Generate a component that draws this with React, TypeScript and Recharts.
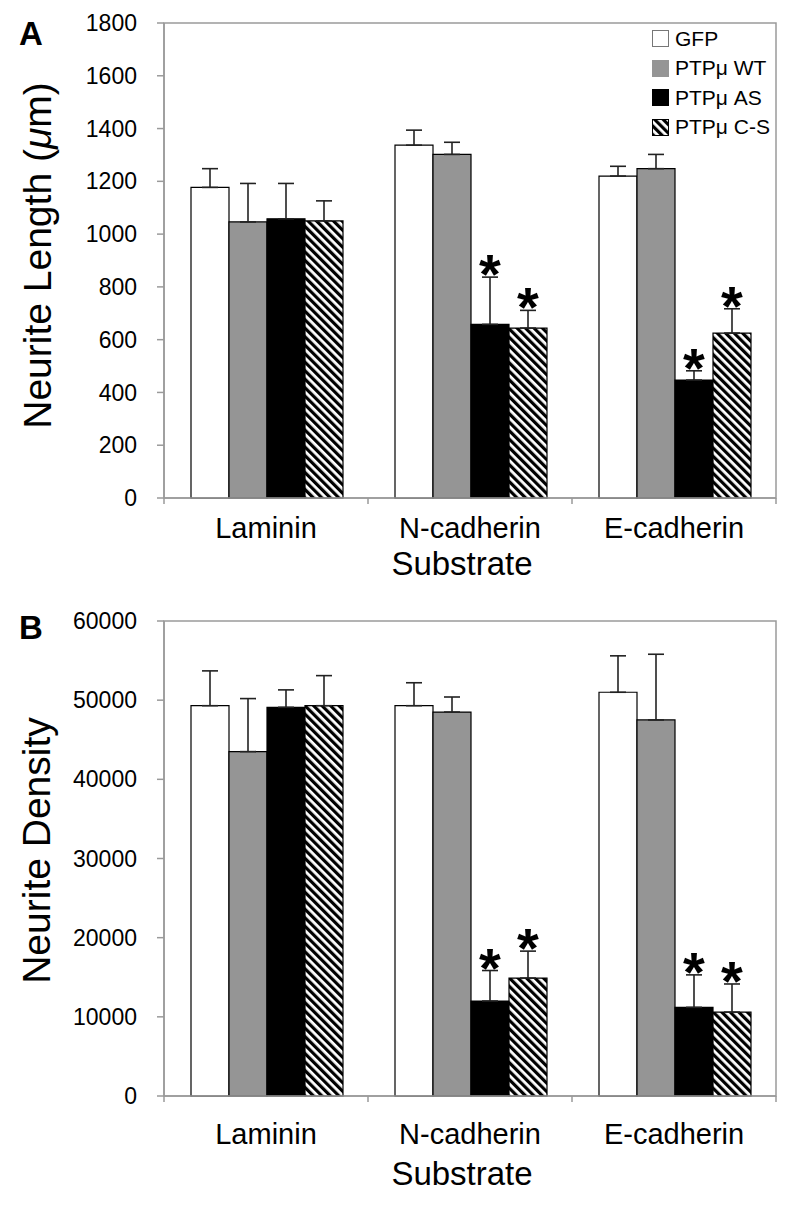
import React from 'react';
import { BarChart, Bar, XAxis, YAxis, ErrorBar, LabelList, ReferenceArea, Label } from 'recharts';

const FONT = '"Liberation Sans", Arial, Helvetica, sans-serif';

// ---- categories & series ----
const substrates = ['Laminin', 'N-cadherin', 'E-cadherin'];
const seriesNames = ['GFP', 'PTPμ WT', 'PTPμ AS', 'PTPμ C-S'];
const seriesKeys = ['gfp', 'wt', 'as', 'cs'];

// ---- Panel A: neurite length (µm) ----
const lengthGFP = [1177, 1337, 1220];
const lengthGFPErr = [71, 57, 37];
const lengthWT = [1046, 1302, 1248];
const lengthWTErr = [146, 46, 54];
const lengthAS = [1058, 658, 447];
const lengthASErr = [134, 179, 35];
const lengthCS = [1050, 644, 625];
const lengthCSErr = [76, 67, 92];
const lengthSigAS = [false, true, true];
const lengthSigCS = [false, true, true];
const lengthTicks = [0, 200, 400, 600, 800, 1000, 1200, 1400, 1600, 1800];

// ---- Panel B: neurite density ----
const densityGFP = [49300, 49300, 51000];
const densityGFPErr = [4400, 2900, 4600];
const densityWT = [43500, 48500, 47500];
const densityWTErr = [6700, 1900, 8300];
const densityAS = [49100, 12000, 11200];
const densityASErr = [2200, 3850, 4100];
const densityCS = [49300, 14900, 10600];
const densityCSErr = [3800, 3400, 3550];
const densitySigAS = [false, true, true];
const densitySigCS = [false, true, true];
const densityTicks = [0, 10000, 20000, 30000, 40000, 50000, 60000];

const AXIS_GRAY = '#9a9a9a';

function buildRows(vals: number[][], errs: number[][]) {
  return substrates.map((name, i) => {
    const row: any = { name };
    seriesKeys.forEach((k, s) => {
      row[k] = vals[s][i];
      row[k + 'Err'] = [0, errs[s][i]];
    });
    return row;
  });
}

const lengthRows = buildRows(
  [lengthGFP, lengthWT, lengthAS, lengthCS],
  [lengthGFPErr, lengthWTErr, lengthASErr, lengthCSErr]
);
const densityRows = buildRows(
  [densityGFP, densityWT, densityAS, densityCS],
  [densityGFPErr, densityWTErr, densityASErr, densityCSErr]
);

const makeStar = (errs: number[], sig: boolean[]) => (props: any) => {
  const { x, y, width, height, value, index } = props;
  if (!sig[index]) return null;
  const v = Number(value);
  const pxPerUnit = Number(height) / v;
  const capY = Number(y) - errs[index] * pxPerUnit;
  const centerY = capY - 15;
  return (
    <text
      x={Number(x) + Number(width) / 2}
      y={centerY + 31}
      textAnchor="middle"
      fontSize={56}
      fontWeight="bold"
      fontFamily={FONT}
      fill="#000"
    >
      *
    </text>
  );
};

// category label at the band centre, tick marks at the band boundaries
const makeCatTick = (catMargin: number) => (props: any) => {
  const { x, y, payload, width, visibleTicksCount, index } = props;
  const count = Number(visibleTicksCount) || substrates.length;
  const band = Number(width) / count;
  const cx = Number(x);
  const cy = Number(y);
  return (
    <g>
      {index === 0 && <line x1={cx - band / 2} y1={cy} x2={cx - band / 2} y2={cy + 6} stroke={AXIS_GRAY} strokeWidth={1.5} />}
      <line x1={cx + band / 2} y1={cy} x2={cx + band / 2} y2={cy + 6} stroke={AXIS_GRAY} strokeWidth={1.5} />
      <text x={cx} y={cy + catMargin} textAnchor="middle" fontSize={29} fontFamily={FONT} fill="#000">
        {payload.value}
      </text>
    </g>
  );
};

const HatchDefs = ({ id }: { id: string }) => (
  <defs>
    <pattern id={id} patternUnits="userSpaceOnUse" width="6" height="6" patternTransform="rotate(-45)">
      <rect x="0" y="0" width="6" height="6" fill="#fff" />
      <rect x="0" y="0" width="3.2" height="6" fill="#000" />
    </pattern>
  </defs>
);

const seriesFill = (key: string, hatchId: string) =>
  key === 'gfp' ? '#ffffff' : key === 'wt' ? '#959595' : key === 'as' ? '#000000' : `url(#${hatchId})`;

type PanelProps = {
  rows: any[];
  ticks: number[];
  max: number;
  yTitle: React.ReactNode;
  yTitleSize: number;
  yTitleX: number;
  yTitleShift: number;
  letter: string;
  letterBaseline: number;
  hatchId: string;
  catMargin: number;
  subBaseline: number;
  errs: number[][];
  sigAS: boolean[];
  sigCS: boolean[];
  top: number;
};

function Panel(p: PanelProps) {
  return (
    <div style={{ position: 'absolute', left: 0, top: p.top, width: 800, height: 600 }}>
      <BarChart
        width={800}
        height={600}
        data={p.rows}
        margin={{ top: 23, right: 24, bottom: 23, left: 0 }}
        barCategoryGap={27}
        barGap={0}
      >
        <HatchDefs id={p.hatchId} />
        <XAxis
          dataKey="name"
          type="category"
          height={79}
          interval={0}
          tickSize={0}
          tickMargin={0}
          tickLine={false}
          axisLine={{ stroke: AXIS_GRAY, strokeWidth: 1.5 }}
          tick={makeCatTick(p.catMargin)}
        >
          <Label
            content={() => (
              <text x={462} y={p.subBaseline} textAnchor="middle" fontSize={33} fontFamily={FONT} fill="#000">
                Substrate
              </text>
            )}
          />
        </XAxis>
        <YAxis
          domain={[0, p.max]}
          ticks={p.ticks}
          width={164}
          tickSize={7}
          tickMargin={20}
          interval={0}
          axisLine={{ stroke: AXIS_GRAY, strokeWidth: 1.5 }}
          tickLine={{ stroke: AXIS_GRAY, strokeWidth: 1.5 }}
          tick={{ fill: '#000', fontSize: 23, fontFamily: FONT }}
        >
          <Label
            content={(lp: any) => {
              const vb = lp.viewBox || { y: 23, height: 475 };
              const cy = vb.y + vb.height / 2 + p.yTitleShift;
              return (
                <g>
                  <text
                    x={p.yTitleX}
                    y={cy}
                    transform={`rotate(-90, ${p.yTitleX}, ${cy})`}
                    textAnchor="middle"
                    fontSize={p.yTitleSize}
                    fontFamily={FONT}
                    fill="#000"
                  >
                    {p.yTitle}
                  </text>
                  <text x={19} y={p.letterBaseline} fontSize={33} fontWeight="bold" fontFamily={FONT} fill="#000">
                    {p.letter}
                  </text>
                </g>
              );
            }}
          />
        </YAxis>
        <ReferenceArea
          y1={0}
          y2={p.max}
          fill="none"
          stroke={AXIS_GRAY}
          strokeWidth={1.5}
          ifOverflow="visible"
        />
        {seriesKeys.map((k, s) => (
          <Bar
            key={k}
            dataKey={k}
            name={seriesNames[s]}
            fill={seriesFill(k, p.hatchId)}
            stroke="#000"
            strokeWidth={1.2}
            isAnimationActive={false}
          >
            <ErrorBar dataKey={k + 'Err'} width={8} stroke="#222" strokeWidth={1.6} direction="y" />
            {k === 'as' && <LabelList dataKey={k} content={makeStar(p.errs[2], p.sigAS)} />}
            {k === 'cs' && <LabelList dataKey={k} content={makeStar(p.errs[3], p.sigCS)} />}
          </Bar>
        ))}
      </BarChart>
    </div>
  );
}

const LegendSwatch = ({ k }: { k: string }) => (
  <svg width={17} height={17} style={{ display: 'block' }}>
    <defs>
      <pattern id="hatchLegend" patternUnits="userSpaceOnUse" width="6" height="6" patternTransform="rotate(-45)">
        <rect x="0" y="0" width="6" height="6" fill="#fff" />
        <rect x="0" y="0" width="3.2" height="6" fill="#000" />
      </pattern>
    </defs>
    <rect
      x={0.5}
      y={0.5}
      width={16}
      height={16}
      fill={seriesFill(k, 'hatchLegend')}
      stroke={k === 'gfp' ? '#777' : k === 'wt' ? '#959595' : '#000'}
      strokeWidth={1}
    />
  </svg>
);

function ChartLegend() {
  return (
    <div style={{ position: 'absolute', left: 652, top: 24, fontFamily: FONT, fontSize: 21, color: '#000' }}>
      {seriesKeys.map((k, s) => (
        <div key={k} style={{ display: 'flex', alignItems: 'center', height: 29.5 }}>
          <LegendSwatch k={k} />
          <span style={{ marginLeft: 6, lineHeight: '22px' }}>{seriesNames[s]}</span>
        </div>
      ))}
    </div>
  );
}

export default function App() {
  return (
    <div
      style={{
        position: 'absolute',
        left: 0,
        top: 0,
        width: 800,
        height: 1206,
        background: '#fff',
        overflow: 'hidden',
      }}
    >
      <Panel
        top={0}
        rows={lengthRows}
        ticks={lengthTicks}
        max={1800}
        yTitle={
          <>
            Neurite Length (<tspan fontStyle="italic">μ</tspan>m)
          </>
        }
        yTitleSize={39}
        yTitleX={51}
        yTitleShift={-5}
        letter="A"
        letterBaseline={45}
        hatchId="hatchA"
        catMargin={40}
        subBaseline={575}
        errs={[lengthGFPErr, lengthWTErr, lengthASErr, lengthCSErr]}
        sigAS={lengthSigAS}
        sigCS={lengthSigCS}
      />
      <ChartLegend />
      <Panel
        top={598}
        rows={densityRows}
        ticks={densityTicks}
        max={60000}
        yTitle="Neurite Density"
        yTitleSize={39}
        yTitleX={50}
        yTitleShift={-8}
        letter="B"
        letterBaseline={41}
        hatchId="hatchB"
        catMargin={48}
        subBaseline={587}
        errs={[densityGFPErr, densityWTErr, densityASErr, densityCSErr]}
        sigAS={densitySigAS}
        sigCS={densitySigCS}
      />
    </div>
  );
}
